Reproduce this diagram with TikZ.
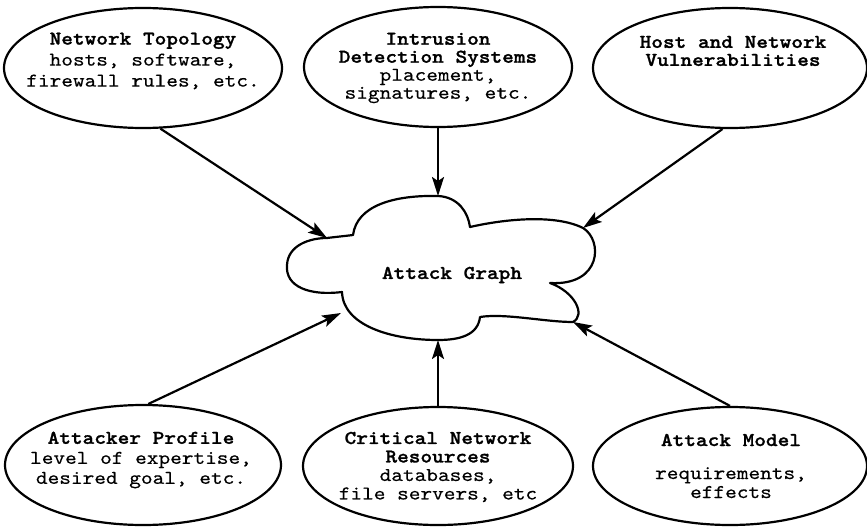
\documentclass[tikz,border=0pt]{standalone}
\usepackage{fontspec}
\newfontfamily\courfont{lmmono10-regular}[Extension=.otf, BoldFont=lmmonolt10-bold, FakeStretch=1.14, UprightFeatures={FakeBold=0.4}, BoldFeatures={FakeBold=1.2}]
\usetikzlibrary{arrows.meta,shapes.geometric}
\begin{document}
\begin{tikzpicture}[x=1pt,y=-1pt,
  src/.style={ellipse, draw, line width=2.2pt, inner sep=0pt},
  lbl/.style={align=center, font=\courfont\fontsize{19.5}{19}\selectfont, inner sep=0pt},
  conn/.style={line width=2.2pt, -{Stealth[length=19pt,width=12pt,inset=4pt]}}]
\useasboundingbox (0,0) rectangle (867,527);
% source ellipses
\node[src, minimum width=278pt, minimum height=120pt] (NT) at (143,68) {};
\node[src, minimum width=268pt, minimum height=120pt] (IDS) at (438,67) {};
\node[src, minimum width=274pt, minimum height=120pt] (HV) at (730,68) {};
\node[src, minimum width=276pt, minimum height=120pt] (AP) at (143,465) {};
\node[src, minimum width=270pt, minimum height=118pt] (CR) at (438,466) {};
\node[src, minimum width=274pt, minimum height=118pt] (AM) at (730,466) {};
% labels
\node[lbl, font=\courfont\fontsize{19.5}{21}\selectfont] (tNTl) at (143,61) {\textbf{Network Topology}\\hosts, software,\\firewall rules, etc.};
\node[lbl, font=\courfont\fontsize{19.5}{18}\selectfont] (tIDSl) at (438,68) {\textbf{Intrusion}\\\textbf{Detection Systems}\\placement,\\signatures, etc.};
\node[lbl, font=\courfont\fontsize{19.5}{18}\selectfont] (tHVl) at (733,51) {\textbf{Host and Network}\\\textbf{Vulnerabilities}};
\node[lbl, font=\courfont\fontsize{19.5}{20}\selectfont] (tAPl) at (141,460) {\textbf{Attacker Profile}\\level of expertise,\\desired goal, etc.};
\node[lbl, font=\courfont\fontsize{19.5}{18.5}\selectfont] (tCRl) at (438,467) {\textbf{Critical Network}\\\textbf{Resources}\\databases,\\file servers, etc};
\node[lbl, font=\courfont\fontsize{19.5}{19}\selectfont] (tAMl) at (731,466) {\textbf{Attack Model}\\[14pt]requirements,\\effects};
% cloud
\coordinate (cNT) at (327,238);
\coordinate (cIDS) at (438,196);
\coordinate (cHV) at (583,228);
\coordinate (cAP) at (341,313);
\coordinate (cCR) at (438,340);
\coordinate (cAM) at (573,322);
\draw[line width=2.2pt, line join=round]
  (353,235) .. controls (357,205) and (395,195) .. (cIDS)
  .. controls (458,197) and (468,212) .. (470,227)
  .. controls (505,219) and (555,214) .. (cHV)
  .. controls (603,240) and (602,286) .. (550,283)
  .. controls (575,292) and (586,315) .. (cAM)
  .. controls (545,322) and (505,313) .. (480,317)
  .. controls (478,335) and (460,340) .. (cCR)
  .. controls (390,340) and (343,325) .. (342,292)
  .. controls (310,296) and (285,287) .. (287,265)
  .. controls (288,245) and (310,238) .. (cNT)
  .. controls (335,237) and (345,236) .. (353,235) -- cycle;
\node[lbl] (AG) at (452,275) {\textbf{Attack Graph}};
% connectors
\draw[conn] (NT.-74) -- (cNT);
\draw[conn] (IDS.south) -- (cIDS);
\draw[conn] (HV.-97) -- (cHV);
\draw[conn] (AP.85) -- (cAP);
\draw[conn] (CR.north) -- (cCR);
\draw[conn] (AM.north) -- (cAM);
\end{tikzpicture}
\end{document}
